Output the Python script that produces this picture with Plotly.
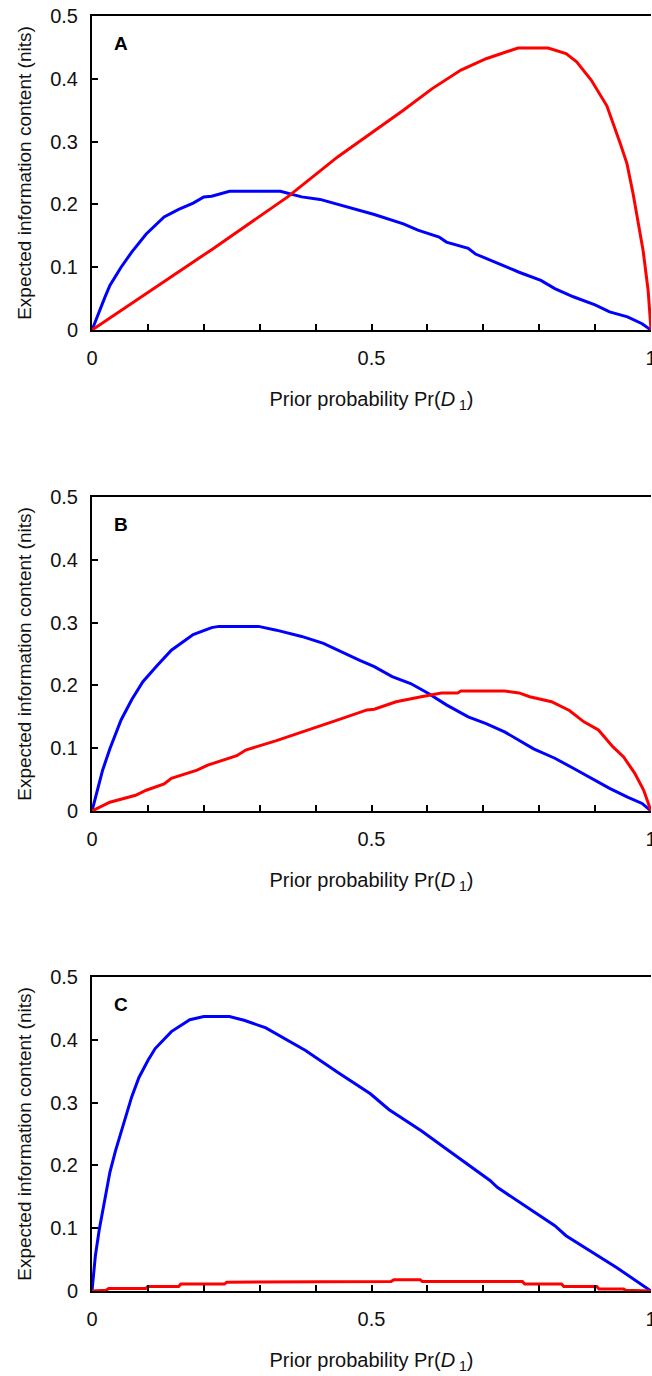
import plotly.graph_objects as go

# ---------------- data ----------------
A_blue_x = [0, 0.013, 0.023, 0.032, 0.052, 0.071, 0.097, 0.129, 0.155, 0.181, 0.2, 0.214, 0.246, 0.337,
            0.375, 0.408, 0.453, 0.505, 0.557, 0.583, 0.621, 0.634, 0.673, 0.686, 0.751, 0.764, 0.803,
            0.828, 0.861, 0.9, 0.926, 0.958, 0.984, 1.0]
A_blue_y = [0, 0.031, 0.052, 0.071, 0.1, 0.124, 0.153, 0.18, 0.192, 0.202, 0.212, 0.213, 0.221, 0.221,
            0.212, 0.208, 0.197, 0.184, 0.169, 0.159, 0.148, 0.14, 0.13, 0.121, 0.097, 0.092, 0.079,
            0.066, 0.053, 0.04, 0.029, 0.021, 0.01, 0]
A_red_x = [0, 0.214, 0.35, 0.44, 0.557, 0.608, 0.66, 0.705, 0.762, 0.816, 0.848, 0.867, 0.893, 0.921,
           0.945, 0.957, 0.968, 0.98, 0.986, 0.995, 1.0]
A_red_y = [0, 0.128, 0.212, 0.276, 0.35, 0.384, 0.414, 0.432, 0.449, 0.449, 0.44, 0.427, 0.398, 0.357,
           0.297, 0.265, 0.217, 0.16, 0.126, 0.062, 0]

B_blue_x = [0, 0.019, 0.032, 0.052, 0.071, 0.091, 0.117, 0.142, 0.181, 0.214, 0.227, 0.298, 0.33, 0.375,
            0.414, 0.44, 0.479, 0.505, 0.537, 0.57, 0.602, 0.634, 0.673, 0.705, 0.738, 0.79, 0.828,
            0.861, 0.9, 0.926, 0.958, 0.984, 1.0]
B_blue_y = [0, 0.065, 0.099, 0.145, 0.177, 0.206, 0.232, 0.256, 0.281, 0.292, 0.294, 0.294, 0.288, 0.278,
            0.267, 0.256, 0.24, 0.23, 0.214, 0.203, 0.187, 0.169, 0.15, 0.139, 0.126, 0.099, 0.084,
            0.068, 0.049, 0.036, 0.022, 0.012, 0]
B_red_x = [0, 0.032, 0.078, 0.097, 0.129, 0.142, 0.188, 0.207, 0.259, 0.275, 0.33, 0.388, 0.44, 0.492,
           0.505, 0.544, 0.57, 0.589, 0.625, 0.654, 0.66, 0.738, 0.764, 0.783, 0.822, 0.854, 0.88,
           0.906, 0.932, 0.951, 0.971, 0.987, 1.0]
B_red_y = [0, 0.014, 0.025, 0.033, 0.043, 0.052, 0.065, 0.073, 0.088, 0.097, 0.112, 0.13, 0.145, 0.161,
           0.162, 0.174, 0.179, 0.182, 0.188, 0.188, 0.191, 0.191, 0.188, 0.182, 0.174, 0.16, 0.142,
           0.129, 0.102, 0.086, 0.06, 0.033, 0]

C_blue_x = [0, 0.006, 0.013, 0.023, 0.032, 0.042, 0.052, 0.061, 0.071, 0.084, 0.1, 0.113, 0.142, 0.175,
            0.2, 0.246, 0.272, 0.311, 0.35, 0.382, 0.44, 0.498, 0.531, 0.589, 0.634, 0.712, 0.725,
            0.828, 0.848, 0.926, 0.939, 1.0]
C_blue_y = [0, 0.056, 0.098, 0.146, 0.189, 0.223, 0.253, 0.279, 0.309, 0.34, 0.367, 0.386, 0.413, 0.432,
            0.437, 0.437, 0.431, 0.419, 0.399, 0.383, 0.348, 0.314, 0.289, 0.255, 0.226, 0.176, 0.165,
            0.104, 0.088, 0.045, 0.037, 0]
C_red_x = [0, 0.025, 0.03, 0.096, 0.1, 0.155, 0.159, 0.237, 0.241, 0.338, 0.342, 0.535, 0.54, 0.587,
           0.591, 0.77, 0.774, 0.84, 0.844, 0.903, 0.907, 0.951, 0.955, 1.0]
C_red_y = [0, 0.001, 0.004, 0.004, 0.007, 0.007, 0.011, 0.011, 0.014, 0.014, 0.015, 0.015, 0.018, 0.018,
           0.015, 0.015, 0.011, 0.011, 0.007, 0.007, 0.003, 0.003, 0.001, 0]

panels = [("A", A_blue_x, A_blue_y, A_red_x, A_red_y),
          ("B", B_blue_x, B_blue_y, B_red_x, B_red_y),
          ("C", C_blue_x, C_blue_y, C_red_x, C_red_y)]

x_title = "Prior probability Pr(<i>D</i><sub> 1</sub>)"
y_title = "Expected information content (nits)"

# ---------------- figure ----------------
FONT = "Liberation Sans, Arial, Helvetica, sans-serif"
W, H = 652, 1376
ML, MR, MT, MB = 92, 1, 16, 85
domains = [[0.7537, 1.0], [0.3765, 0.6227], [0.0, 0.2463]]

fig = go.Figure()
layout = dict(
    width=W, height=H,
    margin=dict(l=ML, r=MR, t=MT, b=MB, pad=0, autoexpand=False),
    paper_bgcolor="white", plot_bgcolor="white",
    showlegend=False,
    font=dict(family=FONT, size=19, color="#111"),
)
annotations = []
for i, (lab, bx, by, rx, ry) in enumerate(panels):
    n = "" if i == 0 else str(i + 1)
    xa, ya = "x" + n, "y" + n
    fig.add_trace(go.Scatter(x=bx, y=by, mode="lines", line=dict(color="#0000ff", width=3),
                             xaxis=xa, yaxis=ya))
    fig.add_trace(go.Scatter(x=rx, y=ry, mode="lines", line=dict(color="#ff0000", width=3),
                             xaxis=xa, yaxis=ya))
    layout["xaxis" + n] = dict(
        domain=[0, 1], anchor=ya, range=[0, 1], automargin=False,
        tickmode="linear", tick0=0, dtick=0.5,
        ticks="inside", ticklen=6, tickwidth=1.5, tickcolor="black",
        minor=dict(dtick=0.1, tick0=0, ticks="inside", ticklen=6, tickwidth=1.5,
                   tickcolor="black", showgrid=False),
        showline=True, linecolor="black", linewidth=2, mirror=True,
        showgrid=False, zeroline=False,
        ticklabelstandoff=9, ticklabeloverflow="allow",
        tickfont=dict(size=20),
        title=dict(text=x_title, font=dict(size=20), standoff=24),
    )
    layout["yaxis" + n] = dict(
        domain=domains[i], anchor=xa, range=[0, 0.5], automargin=False,
        tickmode="linear", tick0=0, dtick=0.1,
        ticks="inside", ticklen=6, tickwidth=1.5, tickcolor="black",
        showline=True, linecolor="black", linewidth=2, mirror=False,
        showgrid=False, zeroline=False,
        ticklabelstandoff=8,
        tickfont=dict(size=20),
        title=dict(text=y_title, font=dict(size=19), standoff=14),
    )
    annotations.append(dict(
        text="<b>%s</b>" % lab, xref=xa + " domain", yref=ya + " domain",
        x=0.052, y=0.911, xanchor="center", yanchor="middle", showarrow=False,
        font=dict(size=19, family=FONT, color="black"),
    ))
layout["annotations"] = annotations
fig.update_layout(**layout)
fig.write_html("out.html")
